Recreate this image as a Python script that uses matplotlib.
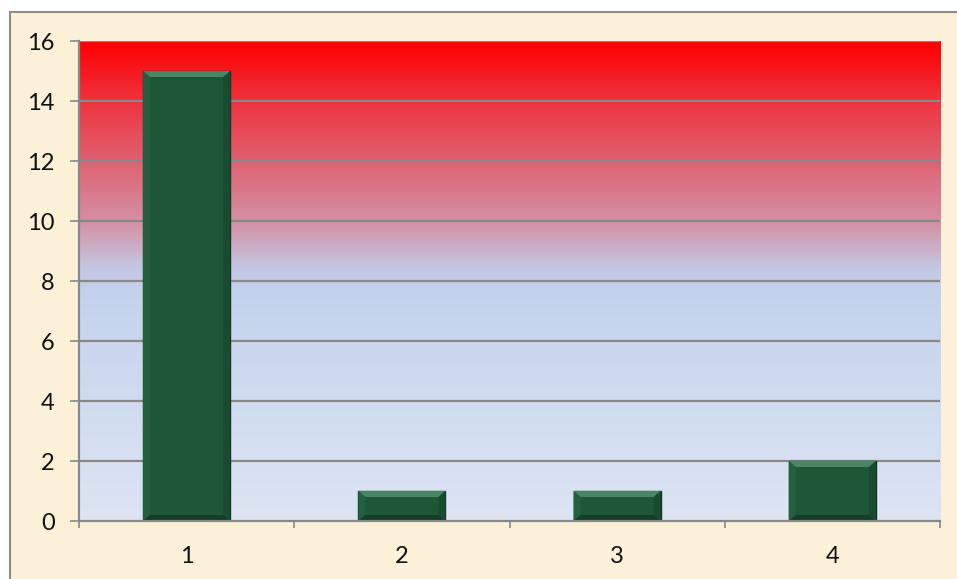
import numpy as np
import matplotlib
matplotlib.use("Agg")
from matplotlib import pyplot as plt
from matplotlib.colors import LinearSegmentedColormap
from matplotlib.patches import Rectangle, Polygon

plt.rcParams['font.family'] = ['Lato', 'DejaVu Sans']

# ===================== 数据 =====================
categories = ['1', '2', '3', '4']
values = [15, 1, 1, 2]
y_ticks = [0, 2, 4, 6, 8, 10, 12, 14, 16]

W, H, DPI = 957, 579, 100
fig = plt.figure(figsize=(W / DPI, H / DPI), dpi=DPI)
fig.patch.set_facecolor('white')

# 图表区（羊皮纸底色），左、上边框可见
bg = fig.add_axes([0, 0, 1, 1], zorder=-1)
bg.set_xlim(0, W)
bg.set_ylim(H, 0)
bg.axis('off')
bg.add_patch(Rectangle((10, 12), W + 20, H + 20, facecolor='#FDF0D8',
                       edgecolor='#8C8C8C', linewidth=1.5))

ax_l, ax_r, ax_t, ax_b = 79, 940, 41, 521
ax = fig.add_axes([ax_l / W, 1 - ax_b / H, (ax_r - ax_l) / W, (ax_b - ax_t) / H])

x = np.arange(len(categories))
ax.set_xlim(-0.5, len(categories) - 0.5)
ax.set_ylim(0, 16)

# ===================== 绘图区渐变背景 =====================
grad_cmap = LinearSegmentedColormap.from_list('bg', [
    (0.0, '#DDE5F3'),
    (0.48, '#C3D2EC'),
    (0.53, '#C5C6E2'),
    (0.62, '#D392A6'),
    (0.75, '#E06272'),
    (0.875, '#EE3440'),
    (1.0, '#FF0000'),
])
grad = np.linspace(0, 1, 400).reshape(-1, 1)
ax.imshow(grad, cmap=grad_cmap, origin='lower', aspect='auto',
          extent=[-0.5, len(categories) - 0.5, 0, 16], zorder=0)

# 网格线
for yv in y_ticks[1:]:
    ax.axhline(yv, color='#888888', linewidth=1.6, zorder=1)

# ===================== 柱形 =====================
bar_w = 0.405
bars = ax.bar(x, values, width=bar_w, color='#1E5638', edgecolor='#0F331F',
              linewidth=1.0, zorder=3)

# 斜面效果
px_x = (len(categories)) / (ax_r - ax_l)
px_y = 16 / (ax_b - ax_t)
bx, by = 7 * px_x, 6 * px_y
for xi, v in zip(x, values):
    l, r = xi - bar_w / 2, xi + bar_w / 2
    ax.add_patch(Polygon([(l, v), (r, v), (r - bx, v - by), (l + bx, v - by)],
                         closed=True, facecolor='#4A8564', edgecolor='none', zorder=4))
    ax.add_patch(Polygon([(l, v), (l + bx, v - by), (l + bx, by), (l, 0)],
                         closed=True, facecolor='#245F40', edgecolor='none', zorder=4))
    ax.add_patch(Polygon([(r, v), (r - bx, v - by), (r - bx, by), (r, 0)],
                         closed=True, facecolor='#184B30', edgecolor='none', zorder=4))
    ax.add_patch(Polygon([(l, 0), (r, 0), (r - bx, by), (l + bx, by)],
                         closed=True, facecolor='#133D27', edgecolor='none', zorder=4))

# ===================== 坐标轴 =====================
for side in ['top', 'right']:
    ax.spines[side].set_visible(False)
for side in ['left', 'bottom']:
    ax.spines[side].set_color('#888888')
    ax.spines[side].set_linewidth(1.6)
    ax.spines[side].set_zorder(5)

ax.set_yticks(y_ticks)
ax.set_yticklabels([str(t) for t in y_ticks])
ax.tick_params(axis='y', length=6.5, width=1.2, color='#888888', pad=11,
               labelsize=17, labelcolor='#111111')

ax.set_xticks(np.arange(-0.5, len(categories), 1.0))
ax.set_xticklabels([])
ax.set_xticks(x, minor=True)
ax.set_xticklabels(categories, minor=True)
ax.tick_params(axis='x', which='major', length=5, width=1.2, color='#888888')
ax.tick_params(axis='x', which='minor', length=0, pad=18,
               labelsize=17, labelcolor='#111111')

fig.savefig('out.png', dpi=DPI, facecolor=fig.get_facecolor())
